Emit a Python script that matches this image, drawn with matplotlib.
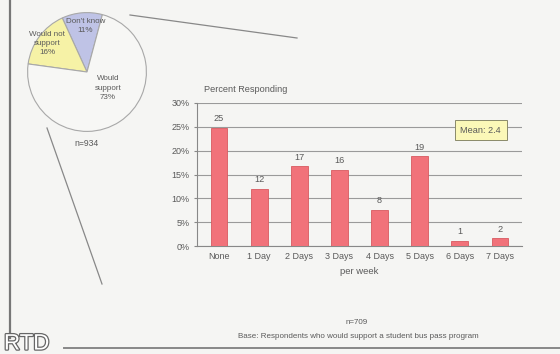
import matplotlib
matplotlib.use("Agg")
import matplotlib.pyplot as plt
import matplotlib.patheffects as pe
from matplotlib.lines import Line2D

# ---- data ----
pie_labels = ["Don't know\n11%", "Would not\nsupport\n16%", "Would\nsupport\n73%"]
pie_shares = [11, 16, 73]
pie_colors = ["#bfc3e6", "#f6f2a6", "#f7f7f5"]

days = ["None", "1 Day", "2 Days", "3 Days", "4 Days", "5 Days", "6 Days", "7 Days"]
pct = [24.7, 12.0, 16.7, 16.0, 7.6, 18.8, 1.0, 1.6]
pct_labels = ["25", "12", "17", "16", "8", "19", "1", "2"]
yticks = [0, 5, 10, 15, 20, 25, 30]
mean_text = "Mean: 2.4"

plt.rcParams["font.family"] = ["Liberation Sans", "DejaVu Sans"]
txt = "#5a5a5a"
bg = "#f5f5f3"

W, H = 560, 354
fig = plt.figure(figsize=(W / 100, H / 100), dpi=100, facecolor=bg)

def fx(x): return x / W
def fy(y): return 1 - y / H

# slide frame lines + connector lines
fig.add_artist(Line2D([fx(10), fx(10)], [fy(0), fy(338)], color="#777777", lw=1.6))
fig.add_artist(Line2D([fx(64), fx(560)], [fy(348), fy(348)], color="#888888", lw=1.4))
fig.add_artist(Line2D([fx(130), fx(297)], [fy(15), fy(38)], color="#888888", lw=0.9))
fig.add_artist(Line2D([fx(47), fx(102)], [fy(128), fy(284)], color="#888888", lw=0.9))
fig.text(fx(4), fy(344), "RTD", fontsize=16, color="white", va="center", ha="left",
         path_effects=[pe.withStroke(linewidth=1.8, foreground="#666666")])

# ---- pie ----
pax = fig.add_axes([fx(27), fy(132), 120 / W, 120 / H])
pax.set_facecolor("none")
wedges, _ = pax.pie(pie_shares, colors=pie_colors, startangle=75, counterclock=True,
                    wedgeprops=dict(edgecolor="#a8a8a8", linewidth=0.8))
pax.set_xlim(-1.01, 1.01)
pax.set_ylim(-1.01, 1.01)
pax.set_aspect("equal")
pos = [(-0.03, 0.77), (-0.67, 0.48), (0.35, -0.27)]
for lab, (x, y) in zip(pie_labels, pos):
    pax.text(x, y, lab, ha="center", va="center", fontsize=5.8, color=txt, linespacing=1.45)
fig.text(fx(87), fy(143), "n=934", ha="center", va="center", fontsize=6.2, color=txt)

# ---- bars ----
ax = fig.add_axes([fx(197), fy(246), 325 / W, 143 / H])
ax.set_facecolor("none")
x = range(len(days))
ax.bar(x, pct, width=0.42, color="#f1727a", edgecolor="#d85a60", linewidth=0.6, zorder=3)
for i, (v, l) in enumerate(zip(pct, pct_labels)):
    ax.text(i, v + 1.0, l, ha="center", va="bottom", fontsize=6.6, color=txt)
ax.set_ylim(0, 30)
ax.set_xlim(-0.55, len(days) - 0.45)
ax.set_yticks(yticks)
ax.set_yticklabels([f"{t}%" for t in yticks])
ax.set_xticks(list(x))
ax.set_xticklabels(days)
ax.yaxis.grid(True, color="#9a9a9a", lw=0.8, zorder=0)
for s in ["top", "right"]:
    ax.spines[s].set_visible(False)
ax.spines["left"].set_color("#888888")
ax.spines["bottom"].set_color("#888888")
ax.tick_params(axis="both", labelsize=6.5, colors=txt, length=2, color="#888888")
ax.tick_params(axis="x", length=0, pad=4)
ax.set_xlabel("per week", fontsize=6.8, color=txt, labelpad=5)
ax.text(0.873, 0.81, mean_text, transform=ax.transAxes, ha="center", va="center",
        fontsize=6.6, color=txt, zorder=5,
        bbox=dict(boxstyle="square,pad=0.6", fc="#fbf8b8", ec="#8a8a6a", lw=0.7))
fig.text(fx(204), fy(90), "Percent Responding", ha="left", va="center", fontsize=6.6, color=txt)

fig.text(fx(357), fy(323), "n=709", ha="center", va="center", fontsize=5.8, color=txt)
fig.text(fx(358), fy(336), "Base: Respondents who would support a student bus pass program",
         ha="center", va="center", fontsize=5.8, color=txt)

fig.savefig("out.png", dpi=100, facecolor=bg)
